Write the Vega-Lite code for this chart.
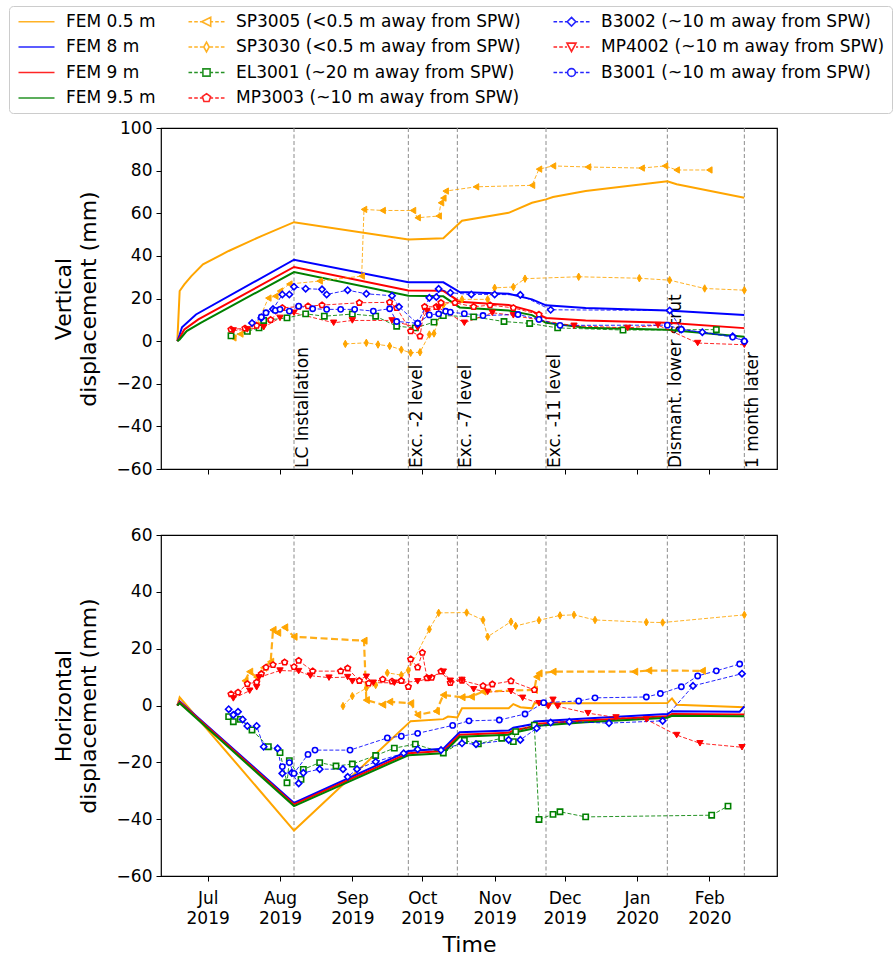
{
"$schema": "https://vega.github.io/schema/vega-lite/v6.json",
"background": "white",
"padding": {"left": 8, "top": 5, "right": 0, "bottom": 5},
"config": {
 "font": "DejaVu Sans",
 "view": {"stroke": "black", "strokeWidth": 1.2},
 "axis": {"domain": false, "grid": false, "tickColor": "black", "tickSize": 5, "tickWidth": 1, "labelColor": "black", "labelFontSize": 17, "titleFontSize": 22, "titleFontWeight": "normal", "titleColor": "black", "labelPadding": 4}
},
"datasets": {
 "ev": [
  {"d": "2019-08-07", "t": "LC Installation"},
  {"d": "2019-09-25", "t": "Exc. -2 level"},
  {"d": "2019-10-16", "t": "Exc. -7 level"},
  {"d": "2019-11-23", "t": "Exc. -11 level"},
  {"d": "2020-01-14", "t": "Dismant. lower strut"},
  {"d": "2020-02-16", "t": "1 month later"}
 ],
 "obs": [
  {"p":"a","s":"FEM 0.5 m","d":"2019-06-18","v":0},{"p":"a","s":"FEM 0.5 m","d":"2019-06-19","v":23.5},{"p":"a","s":"FEM 0.5 m","d":"2019-06-21","v":26.6},{"p":"a","s":"FEM 0.5 m","d":"2019-06-24","v":30.5},{"p":"a","s":"FEM 0.5 m","d":"2019-06-29","v":36},{"p":"a","s":"FEM 0.5 m","d":"2019-07-10","v":42.3},{"p":"a","s":"FEM 0.5 m","d":"2019-07-24","v":49.3},{"p":"a","s":"FEM 0.5 m","d":"2019-08-07","v":55.8},{"p":"a","s":"FEM 0.5 m","d":"2019-09-25","v":47.7},{"p":"a","s":"FEM 0.5 m","d":"2019-10-10","v":48.3},{"p":"a","s":"FEM 0.5 m","d":"2019-10-18","v":56.5},{"p":"a","s":"FEM 0.5 m","d":"2019-11-07","v":60.2},{"p":"a","s":"FEM 0.5 m","d":"2019-11-17","v":64.9},{"p":"a","s":"FEM 0.5 m","d":"2019-11-23","v":66.5},{"p":"a","s":"FEM 0.5 m","d":"2019-11-26","v":67.6},{"p":"a","s":"FEM 0.5 m","d":"2019-12-10","v":70.4},{"p":"a","s":"FEM 0.5 m","d":"2020-01-14","v":75},{"p":"a","s":"FEM 0.5 m","d":"2020-01-18","v":73.6},{"p":"a","s":"FEM 0.5 m","d":"2020-02-16","v":67.3},
  {"p":"a","s":"FEM 8 m","d":"2019-06-18","v":0},{"p":"a","s":"FEM 8 m","d":"2019-06-19","v":3},{"p":"a","s":"FEM 8 m","d":"2019-06-20","v":6.5},{"p":"a","s":"FEM 8 m","d":"2019-06-26","v":12.5},{"p":"a","s":"FEM 8 m","d":"2019-08-07","v":38.2},{"p":"a","s":"FEM 8 m","d":"2019-09-25","v":27.6},{"p":"a","s":"FEM 8 m","d":"2019-10-10","v":27.6},{"p":"a","s":"FEM 8 m","d":"2019-10-17","v":23},{"p":"a","s":"FEM 8 m","d":"2019-11-07","v":22.2},{"p":"a","s":"FEM 8 m","d":"2019-11-17","v":19.6},{"p":"a","s":"FEM 8 m","d":"2019-11-23","v":16.8},{"p":"a","s":"FEM 8 m","d":"2019-12-10","v":15.6},{"p":"a","s":"FEM 8 m","d":"2020-01-14","v":14.4},{"p":"a","s":"FEM 8 m","d":"2020-02-16","v":12.3},
  {"p":"a","s":"FEM 9 m","d":"2019-06-18","v":0},{"p":"a","s":"FEM 9 m","d":"2019-06-19","v":1.6},{"p":"a","s":"FEM 9 m","d":"2019-06-21","v":5.5},{"p":"a","s":"FEM 9 m","d":"2019-06-27","v":10.2},{"p":"a","s":"FEM 9 m","d":"2019-08-07","v":34.8},{"p":"a","s":"FEM 9 m","d":"2019-09-25","v":23.8},{"p":"a","s":"FEM 9 m","d":"2019-10-10","v":23.6},{"p":"a","s":"FEM 9 m","d":"2019-10-17","v":18.5},{"p":"a","s":"FEM 9 m","d":"2019-11-07","v":16.9},{"p":"a","s":"FEM 9 m","d":"2019-11-17","v":14.1},{"p":"a","s":"FEM 9 m","d":"2019-11-23","v":10.9},{"p":"a","s":"FEM 9 m","d":"2019-12-10","v":9.7},{"p":"a","s":"FEM 9 m","d":"2020-01-14","v":8.6},{"p":"a","s":"FEM 9 m","d":"2020-02-16","v":6.1},
  {"p":"a","s":"FEM 9.5 m","d":"2019-06-18","v":0},{"p":"a","s":"FEM 9.5 m","d":"2019-06-19","v":0.8},{"p":"a","s":"FEM 9.5 m","d":"2019-06-22","v":4.7},{"p":"a","s":"FEM 9.5 m","d":"2019-06-28","v":8.6},{"p":"a","s":"FEM 9.5 m","d":"2019-08-07","v":32.4},{"p":"a","s":"FEM 9.5 m","d":"2019-09-25","v":21.3},{"p":"a","s":"FEM 9.5 m","d":"2019-10-10","v":21},{"p":"a","s":"FEM 9.5 m","d":"2019-10-17","v":15.8},{"p":"a","s":"FEM 9.5 m","d":"2019-11-07","v":14.4},{"p":"a","s":"FEM 9.5 m","d":"2019-11-17","v":12.2},{"p":"a","s":"FEM 9.5 m","d":"2019-11-23","v":8.6},{"p":"a","s":"FEM 9.5 m","d":"2019-12-10","v":6.3},{"p":"a","s":"FEM 9.5 m","d":"2020-01-14","v":5.3},{"p":"a","s":"FEM 9.5 m","d":"2020-02-16","v":2.1},
  {"p":"a","s":"SP3005","d":"2019-07-12","v":1.5},{"p":"a","s":"SP3005","d":"2019-07-15","v":3.3},{"p":"a","s":"SP3005","d":"2019-07-18","v":4.7},{"p":"a","s":"SP3005","d":"2019-07-22","v":7.5},{"p":"a","s":"SP3005","d":"2019-07-27","v":20.2},{"p":"a","s":"SP3005","d":"2019-07-30","v":21.1},{"p":"a","s":"SP3005","d":"2019-08-01","v":23.5},{"p":"a","s":"SP3005","d":"2019-08-05","v":26.8},{"p":"a","s":"SP3005","d":"2019-08-18","v":28.2},{"p":"a","s":"SP3005","d":"2019-09-05","v":30.5},{"p":"a","s":"SP3005","d":"2019-09-06","v":61.8},{"p":"a","s":"SP3005","d":"2019-09-14","v":61.3},{"p":"a","s":"SP3005","d":"2019-09-27","v":61.3},{"p":"a","s":"SP3005","d":"2019-09-29","v":57.9},{"p":"a","s":"SP3005","d":"2019-10-08","v":58.7},{"p":"a","s":"SP3005","d":"2019-10-09","v":64.9},{"p":"a","s":"SP3005","d":"2019-10-10","v":67.1},{"p":"a","s":"SP3005","d":"2019-10-11","v":70.4},{"p":"a","s":"SP3005","d":"2019-10-24","v":72.4},{"p":"a","s":"SP3005","d":"2019-11-17","v":73.1},{"p":"a","s":"SP3005","d":"2019-11-20","v":80.7},{"p":"a","s":"SP3005","d":"2019-11-26","v":82.2},{"p":"a","s":"SP3005","d":"2019-12-11","v":81.7},{"p":"a","s":"SP3005","d":"2020-01-03","v":81.2},{"p":"a","s":"SP3005","d":"2020-01-13","v":82.2},{"p":"a","s":"SP3005","d":"2020-01-18","v":80.3},{"p":"a","s":"SP3005","d":"2020-02-01","v":80.3},
  {"p":"a","s":"SP3030","d":"2019-08-29","v":-1.3},{"p":"a","s":"SP3030","d":"2019-09-07","v":-0.8},{"p":"a","s":"SP3030","d":"2019-09-12","v":-1.6},{"p":"a","s":"SP3030","d":"2019-09-17","v":-2.3},{"p":"a","s":"SP3030","d":"2019-09-22","v":-4},{"p":"a","s":"SP3030","d":"2019-09-26","v":-5.5},{"p":"a","s":"SP3030","d":"2019-09-30","v":-5.2},{"p":"a","s":"SP3030","d":"2019-10-04","v":3.1},{"p":"a","s":"SP3030","d":"2019-10-06","v":3.6},{"p":"a","s":"SP3030","d":"2019-10-10","v":17},{"p":"a","s":"SP3030","d":"2019-10-18","v":19.6},{"p":"a","s":"SP3030","d":"2019-10-29","v":19.6},{"p":"a","s":"SP3030","d":"2019-11-01","v":25},{"p":"a","s":"SP3030","d":"2019-11-09","v":25.4},{"p":"a","s":"SP3030","d":"2019-11-14","v":29.3},{"p":"a","s":"SP3030","d":"2019-12-07","v":30.2},{"p":"a","s":"SP3030","d":"2020-01-02","v":29.5},{"p":"a","s":"SP3030","d":"2020-01-15","v":28.6},{"p":"a","s":"SP3030","d":"2020-01-30","v":24.7},{"p":"a","s":"SP3030","d":"2020-02-16","v":23.9},
  {"p":"a","s":"EL3001","d":"2019-07-11","v":2.5},{"p":"a","s":"EL3001","d":"2019-07-18","v":4.6},{"p":"a","s":"EL3001","d":"2019-07-23","v":6.2},{"p":"a","s":"EL3001","d":"2019-07-25","v":9.7},{"p":"a","s":"EL3001","d":"2019-08-04","v":10.9},{"p":"a","s":"EL3001","d":"2019-08-12","v":12.8},{"p":"a","s":"EL3001","d":"2019-08-20","v":11.7},{"p":"a","s":"EL3001","d":"2019-09-01","v":12.7},{"p":"a","s":"EL3001","d":"2019-09-11","v":11.7},{"p":"a","s":"EL3001","d":"2019-09-20","v":7},{"p":"a","s":"EL3001","d":"2019-09-28","v":6.2},{"p":"a","s":"EL3001","d":"2019-10-06","v":8.9},{"p":"a","s":"EL3001","d":"2019-10-10","v":12},{"p":"a","s":"EL3001","d":"2019-10-23","v":11.4},{"p":"a","s":"EL3001","d":"2019-11-05","v":9.2},{"p":"a","s":"EL3001","d":"2019-11-16","v":8.3},{"p":"a","s":"EL3001","d":"2019-11-28","v":6.2},{"p":"a","s":"EL3001","d":"2019-12-26","v":5.2},{"p":"a","s":"EL3001","d":"2020-02-04","v":5.4},
  {"p":"a","s":"MP3003","d":"2019-07-11","v":5.5},{"p":"a","s":"MP3003","d":"2019-07-17","v":6},{"p":"a","s":"MP3003","d":"2019-07-22","v":7.3},{"p":"a","s":"MP3003","d":"2019-07-28","v":10},{"p":"a","s":"MP3003","d":"2019-08-02","v":15.6},{"p":"a","s":"MP3003","d":"2019-08-09","v":16.2},{"p":"a","s":"MP3003","d":"2019-08-13","v":16.4},{"p":"a","s":"MP3003","d":"2019-08-19","v":16.9},{"p":"a","s":"MP3003","d":"2019-09-04","v":18},{"p":"a","s":"MP3003","d":"2019-09-17","v":18.2},{"p":"a","s":"MP3003","d":"2019-09-20","v":15.6},{"p":"a","s":"MP3003","d":"2019-09-26","v":4.7},{"p":"a","s":"MP3003","d":"2019-09-30","v":2.3},{"p":"a","s":"MP3003","d":"2019-10-02","v":16.1},{"p":"a","s":"MP3003","d":"2019-10-07","v":16.1},{"p":"a","s":"MP3003","d":"2019-10-09","v":18},{"p":"a","s":"MP3003","d":"2019-10-15","v":18},{"p":"a","s":"MP3003","d":"2019-10-23","v":16.1},{"p":"a","s":"MP3003","d":"2019-10-30","v":16.9},{"p":"a","s":"MP3003","d":"2019-11-09","v":15.6},{"p":"a","s":"MP3003","d":"2019-11-20","v":12.5},
  {"p":"a","s":"MP4002","d":"2019-07-12","v":5},{"p":"a","s":"MP4002","d":"2019-07-18","v":5.5},{"p":"a","s":"MP4002","d":"2019-07-25","v":6.5},{"p":"a","s":"MP4002","d":"2019-08-01","v":10.9},{"p":"a","s":"MP4002","d":"2019-08-07","v":13.3},{"p":"a","s":"MP4002","d":"2019-08-24","v":8.6},{"p":"a","s":"MP4002","d":"2019-09-01","v":9.7},{"p":"a","s":"MP4002","d":"2019-09-18","v":9.7},{"p":"a","s":"MP4002","d":"2019-09-29","v":6.2},{"p":"a","s":"MP4002","d":"2019-10-03","v":14.1},{"p":"a","s":"MP4002","d":"2019-10-08","v":15.6},{"p":"a","s":"MP4002","d":"2019-10-19","v":8.6},{"p":"a","s":"MP4002","d":"2019-10-31","v":13.3},{"p":"a","s":"MP4002","d":"2019-11-09","v":12.1},{"p":"a","s":"MP4002","d":"2019-11-20","v":9.9},{"p":"a","s":"MP4002","d":"2019-12-05","v":7.2},{"p":"a","s":"MP4002","d":"2019-12-28","v":6.2},{"p":"a","s":"MP4002","d":"2020-01-10","v":7.5},{"p":"a","s":"MP4002","d":"2020-01-27","v":-0.9},{"p":"a","s":"MP4002","d":"2020-02-16","v":-1.7},
  {"p":"a","s":"B3002","d":"2019-07-20","v":8.5},{"p":"a","s":"B3002","d":"2019-07-24","v":10.9},{"p":"a","s":"B3002","d":"2019-07-29","v":15},{"p":"a","s":"B3002","d":"2019-08-02","v":21.9},{"p":"a","s":"B3002","d":"2019-08-05","v":21.9},{"p":"a","s":"B3002","d":"2019-08-07","v":25.5},{"p":"a","s":"B3002","d":"2019-08-12","v":24.6},{"p":"a","s":"B3002","d":"2019-08-19","v":24.3},{"p":"a","s":"B3002","d":"2019-08-21","v":21.9},{"p":"a","s":"B3002","d":"2019-08-30","v":23.9},{"p":"a","s":"B3002","d":"2019-09-07","v":22.2},{"p":"a","s":"B3002","d":"2019-09-18","v":21.3},{"p":"a","s":"B3002","d":"2019-09-21","v":16.1},{"p":"a","s":"B3002","d":"2019-09-29","v":8.2},{"p":"a","s":"B3002","d":"2019-10-04","v":20.3},{"p":"a","s":"B3002","d":"2019-10-07","v":20.7},{"p":"a","s":"B3002","d":"2019-10-08","v":24.5},{"p":"a","s":"B3002","d":"2019-10-13","v":22.7},{"p":"a","s":"B3002","d":"2019-10-22","v":21.9},{"p":"a","s":"B3002","d":"2019-11-01","v":21.9},{"p":"a","s":"B3002","d":"2019-11-12","v":21.7},{"p":"a","s":"B3002","d":"2019-11-25","v":14.7},{"p":"a","s":"B3002","d":"2020-01-15","v":14.4},{"p":"a","s":"B3002","d":"2020-01-20","v":5.5},{"p":"a","s":"B3002","d":"2020-01-29","v":4.2},{"p":"a","s":"B3002","d":"2020-02-11","v":2.3},{"p":"a","s":"B3002","d":"2020-02-16","v":0},
  {"p":"a","s":"B3001","d":"2019-07-24","v":11.3},{"p":"a","s":"B3001","d":"2019-07-26","v":13.3},{"p":"a","s":"B3001","d":"2019-07-30","v":14.4},{"p":"a","s":"B3001","d":"2019-08-01","v":14.9},{"p":"a","s":"B3001","d":"2019-08-05","v":14.1},{"p":"a","s":"B3001","d":"2019-08-09","v":16.4},{"p":"a","s":"B3001","d":"2019-08-15","v":15.2},{"p":"a","s":"B3001","d":"2019-08-21","v":14.9},{"p":"a","s":"B3001","d":"2019-08-27","v":14.9},{"p":"a","s":"B3001","d":"2019-09-02","v":14.9},{"p":"a","s":"B3001","d":"2019-09-10","v":14.1},{"p":"a","s":"B3001","d":"2019-09-17","v":15.2},{"p":"a","s":"B3001","d":"2019-09-20","v":9.2},{"p":"a","s":"B3001","d":"2019-09-29","v":8.4},{"p":"a","s":"B3001","d":"2019-10-04","v":12.3},{"p":"a","s":"B3001","d":"2019-10-08","v":12.8},{"p":"a","s":"B3001","d":"2019-10-11","v":14},{"p":"a","s":"B3001","d":"2019-10-13","v":13.6},{"p":"a","s":"B3001","d":"2019-10-19","v":12.9},{"p":"a","s":"B3001","d":"2019-10-27","v":12},{"p":"a","s":"B3001","d":"2019-11-11","v":12.5},{"p":"a","s":"B3001","d":"2019-11-20","v":10.2},{"p":"a","s":"B3001","d":"2019-11-29","v":7.4},{"p":"a","s":"B3001","d":"2020-01-14","v":7.5},{"p":"a","s":"B3001","d":"2020-01-20","v":5.5},{"p":"a","s":"B3001","d":"2020-02-11","v":1.9},{"p":"a","s":"B3001","d":"2020-02-16","v":0},
  {"p":"b","s":"FEM 0.5 m","d":"2019-06-18","v":0},{"p":"b","s":"FEM 0.5 m","d":"2019-06-19","v":2.9},{"p":"b","s":"FEM 0.5 m","d":"2019-08-07","v":-44},{"p":"b","s":"FEM 0.5 m","d":"2019-09-26","v":-5.5},{"p":"b","s":"FEM 0.5 m","d":"2019-10-10","v":-4.8},{"p":"b","s":"FEM 0.5 m","d":"2019-10-12","v":-3.9},{"p":"b","s":"FEM 0.5 m","d":"2019-10-16","v":-4.2},{"p":"b","s":"FEM 0.5 m","d":"2019-10-18","v":-1},{"p":"b","s":"FEM 0.5 m","d":"2019-11-07","v":-1},{"p":"b","s":"FEM 0.5 m","d":"2019-11-09","v":0.5},{"p":"b","s":"FEM 0.5 m","d":"2019-11-12","v":-0.6},{"p":"b","s":"FEM 0.5 m","d":"2019-11-17","v":-1},{"p":"b","s":"FEM 0.5 m","d":"2019-11-18","v":0.8},{"p":"b","s":"FEM 0.5 m","d":"2019-12-10","v":0.8},{"p":"b","s":"FEM 0.5 m","d":"2020-01-14","v":0.9},{"p":"b","s":"FEM 0.5 m","d":"2020-01-16","v":2.5},{"p":"b","s":"FEM 0.5 m","d":"2020-01-18","v":0.3},{"p":"b","s":"FEM 0.5 m","d":"2020-02-16","v":-0.6},
  {"p":"b","s":"FEM 8 m","d":"2019-06-18","v":0},{"p":"b","s":"FEM 8 m","d":"2019-06-19","v":1.5},{"p":"b","s":"FEM 8 m","d":"2019-08-07","v":-34.3},{"p":"b","s":"FEM 8 m","d":"2019-09-25","v":-16},{"p":"b","s":"FEM 8 m","d":"2019-10-10","v":-15.2},{"p":"b","s":"FEM 8 m","d":"2019-10-17","v":-9.4},{"p":"b","s":"FEM 8 m","d":"2019-11-07","v":-8.8},{"p":"b","s":"FEM 8 m","d":"2019-11-09","v":-7.8},{"p":"b","s":"FEM 8 m","d":"2019-11-17","v":-6.6},{"p":"b","s":"FEM 8 m","d":"2019-11-18","v":-5.6},{"p":"b","s":"FEM 8 m","d":"2019-12-10","v":-4.6},{"p":"b","s":"FEM 8 m","d":"2020-01-14","v":-3},{"p":"b","s":"FEM 8 m","d":"2020-01-16","v":-2},{"p":"b","s":"FEM 8 m","d":"2020-02-14","v":-2.2},{"p":"b","s":"FEM 8 m","d":"2020-02-16","v":-0.3},
  {"p":"b","s":"FEM 9 m","d":"2019-06-18","v":0},{"p":"b","s":"FEM 9 m","d":"2019-06-19","v":1.2},{"p":"b","s":"FEM 9 m","d":"2019-08-07","v":-34.8},{"p":"b","s":"FEM 9 m","d":"2019-09-25","v":-16.8},{"p":"b","s":"FEM 9 m","d":"2019-10-10","v":-16},{"p":"b","s":"FEM 9 m","d":"2019-10-17","v":-10.3},{"p":"b","s":"FEM 9 m","d":"2019-11-07","v":-9.6},{"p":"b","s":"FEM 9 m","d":"2019-11-09","v":-8.8},{"p":"b","s":"FEM 9 m","d":"2019-11-17","v":-7.5},{"p":"b","s":"FEM 9 m","d":"2019-11-18","v":-6.5},{"p":"b","s":"FEM 9 m","d":"2019-12-10","v":-5.3},{"p":"b","s":"FEM 9 m","d":"2020-01-14","v":-3.8},{"p":"b","s":"FEM 9 m","d":"2020-01-16","v":-3},{"p":"b","s":"FEM 9 m","d":"2020-02-16","v":-3.2},
  {"p":"b","s":"FEM 9.5 m","d":"2019-06-18","v":0},{"p":"b","s":"FEM 9.5 m","d":"2019-06-19","v":0.8},{"p":"b","s":"FEM 9.5 m","d":"2019-08-07","v":-35.4},{"p":"b","s":"FEM 9.5 m","d":"2019-09-25","v":-17.5},{"p":"b","s":"FEM 9.5 m","d":"2019-10-10","v":-16.8},{"p":"b","s":"FEM 9.5 m","d":"2019-10-17","v":-11},{"p":"b","s":"FEM 9.5 m","d":"2019-11-07","v":-10.3},{"p":"b","s":"FEM 9.5 m","d":"2019-11-09","v":-9.6},{"p":"b","s":"FEM 9.5 m","d":"2019-11-17","v":-8.2},{"p":"b","s":"FEM 9.5 m","d":"2019-11-18","v":-7.2},{"p":"b","s":"FEM 9.5 m","d":"2019-12-10","v":-5.9},{"p":"b","s":"FEM 9.5 m","d":"2020-01-14","v":-4.3},{"p":"b","s":"FEM 9.5 m","d":"2020-01-16","v":-3.6},{"p":"b","s":"FEM 9.5 m","d":"2020-02-16","v":-3.8},
  {"p":"b","s":"SP3005","d":"2019-07-17","v":8.7},{"p":"b","s":"SP3005","d":"2019-07-19","v":11.9},{"p":"b","s":"SP3005","d":"2019-07-22","v":10},{"p":"b","s":"SP3005","d":"2019-07-25","v":13.3},{"p":"b","s":"SP3005","d":"2019-07-28","v":15.4},{"p":"b","s":"SP3005","d":"2019-07-29","v":26.6},{"p":"b","s":"SP3005","d":"2019-07-31","v":25.6},{"p":"b","s":"SP3005","d":"2019-08-03","v":27.5},{"p":"b","s":"SP3005","d":"2019-08-07","v":24.2},{"p":"b","s":"SP3005","d":"2019-09-06","v":22.8},{"p":"b","s":"SP3005","d":"2019-09-07","v":1.9},{"p":"b","s":"SP3005","d":"2019-09-14","v":0.3},{"p":"b","s":"SP3005","d":"2019-09-17","v":1.3},{"p":"b","s":"SP3005","d":"2019-09-26","v":0.8},{"p":"b","s":"SP3005","d":"2019-09-29","v":-3.3},{"p":"b","s":"SP3005","d":"2019-10-07","v":-2},{"p":"b","s":"SP3005","d":"2019-10-10","v":3.7},{"p":"b","s":"SP3005","d":"2019-10-18","v":2.9},{"p":"b","s":"SP3005","d":"2019-10-22","v":3.1},{"p":"b","s":"SP3005","d":"2019-10-27","v":4.9},{"p":"b","s":"SP3005","d":"2019-11-18","v":5.5},{"p":"b","s":"SP3005","d":"2019-11-19","v":10.1},{"p":"b","s":"SP3005","d":"2019-11-20","v":11.3},{"p":"b","s":"SP3005","d":"2019-11-26","v":11.9},{"p":"b","s":"SP3005","d":"2019-12-31","v":11.9},{"p":"b","s":"SP3005","d":"2020-01-06","v":12.3},{"p":"b","s":"SP3005","d":"2020-01-29","v":12.2},
  {"p":"b","s":"SP3030","d":"2019-08-28","v":-0.2},{"p":"b","s":"SP3030","d":"2019-09-01","v":3.3},{"p":"b","s":"SP3030","d":"2019-09-07","v":6.1},{"p":"b","s":"SP3030","d":"2019-09-11","v":7.2},{"p":"b","s":"SP3030","d":"2019-09-16","v":11.5},{"p":"b","s":"SP3030","d":"2019-09-22","v":10.7},{"p":"b","s":"SP3030","d":"2019-09-25","v":12.4},{"p":"b","s":"SP3030","d":"2019-10-04","v":26.8},{"p":"b","s":"SP3030","d":"2019-10-08","v":32.6},{"p":"b","s":"SP3030","d":"2019-10-20","v":32.7},{"p":"b","s":"SP3030","d":"2019-10-27","v":30.1},{"p":"b","s":"SP3030","d":"2019-10-29","v":24.2},{"p":"b","s":"SP3030","d":"2019-11-08","v":29.5},{"p":"b","s":"SP3030","d":"2019-11-10","v":28},{"p":"b","s":"SP3030","d":"2019-11-20","v":30},{"p":"b","s":"SP3030","d":"2019-11-29","v":31.7},{"p":"b","s":"SP3030","d":"2019-12-05","v":31.9},{"p":"b","s":"SP3030","d":"2019-12-14","v":30.1},{"p":"b","s":"SP3030","d":"2020-01-05","v":29.3},{"p":"b","s":"SP3030","d":"2020-01-12","v":29.2},{"p":"b","s":"SP3030","d":"2020-02-16","v":31.9},
  {"p":"b","s":"EL3001","d":"2019-07-10","v":-3.9},{"p":"b","s":"EL3001","d":"2019-07-12","v":-5.7},{"p":"b","s":"EL3001","d":"2019-07-15","v":-4.9},{"p":"b","s":"EL3001","d":"2019-07-20","v":-8.6},{"p":"b","s":"EL3001","d":"2019-07-27","v":-14.5},{"p":"b","s":"EL3001","d":"2019-08-01","v":-16.6},{"p":"b","s":"EL3001","d":"2019-08-04","v":-27.2},{"p":"b","s":"EL3001","d":"2019-08-05","v":-19.4},{"p":"b","s":"EL3001","d":"2019-08-10","v":-26},{"p":"b","s":"EL3001","d":"2019-08-11","v":-22.5},{"p":"b","s":"EL3001","d":"2019-08-18","v":-20.1},{"p":"b","s":"EL3001","d":"2019-08-25","v":-21.3},{"p":"b","s":"EL3001","d":"2019-09-01","v":-20.6},{"p":"b","s":"EL3001","d":"2019-09-11","v":-17.6},{"p":"b","s":"EL3001","d":"2019-09-19","v":-15},{"p":"b","s":"EL3001","d":"2019-09-28","v":-13.6},{"p":"b","s":"EL3001","d":"2019-10-10","v":-16.7},{"p":"b","s":"EL3001","d":"2019-10-19","v":-12.3},{"p":"b","s":"EL3001","d":"2019-10-25","v":-13.5},{"p":"b","s":"EL3001","d":"2019-11-04","v":-11.5},{"p":"b","s":"EL3001","d":"2019-11-09","v":-12.7},{"p":"b","s":"EL3001","d":"2019-11-10","v":-9.2},{"p":"b","s":"EL3001","d":"2019-11-18","v":-6.9},{"p":"b","s":"EL3001","d":"2019-11-20","v":-40.1},{"p":"b","s":"EL3001","d":"2019-11-26","v":-38.3},{"p":"b","s":"EL3001","d":"2019-11-29","v":-37.4},{"p":"b","s":"EL3001","d":"2019-12-10","v":-39.2},{"p":"b","s":"EL3001","d":"2020-02-02","v":-38.6},{"p":"b","s":"EL3001","d":"2020-02-09","v":-35.4},
  {"p":"b","s":"MP3003","d":"2019-07-11","v":4},{"p":"b","s":"MP3003","d":"2019-07-14","v":4.6},{"p":"b","s":"MP3003","d":"2019-07-18","v":7.6},{"p":"b","s":"MP3003","d":"2019-07-22","v":8.2},{"p":"b","s":"MP3003","d":"2019-07-24","v":11.1},{"p":"b","s":"MP3003","d":"2019-07-26","v":13.4},{"p":"b","s":"MP3003","d":"2019-07-29","v":14.3},{"p":"b","s":"MP3003","d":"2019-08-03","v":15.2},{"p":"b","s":"MP3003","d":"2019-08-07","v":13.6},{"p":"b","s":"MP3003","d":"2019-08-09","v":15.8},{"p":"b","s":"MP3003","d":"2019-08-15","v":12.1},{"p":"b","s":"MP3003","d":"2019-08-27","v":12.1},{"p":"b","s":"MP3003","d":"2019-08-30","v":13.1},{"p":"b","s":"MP3003","d":"2019-09-04","v":8.7},{"p":"b","s":"MP3003","d":"2019-09-08","v":7.8},{"p":"b","s":"MP3003","d":"2019-09-14","v":9.2},{"p":"b","s":"MP3003","d":"2019-09-18","v":8.5},{"p":"b","s":"MP3003","d":"2019-09-22","v":8.7},{"p":"b","s":"MP3003","d":"2019-09-25","v":6.6},{"p":"b","s":"MP3003","d":"2019-09-26","v":16.3},{"p":"b","s":"MP3003","d":"2019-09-29","v":13.4},{"p":"b","s":"MP3003","d":"2019-10-01","v":18.6},{"p":"b","s":"MP3003","d":"2019-10-03","v":9.7},{"p":"b","s":"MP3003","d":"2019-10-05","v":9.8},{"p":"b","s":"MP3003","d":"2019-10-09","v":12},{"p":"b","s":"MP3003","d":"2019-10-13","v":8},{"p":"b","s":"MP3003","d":"2019-10-18","v":8.8},{"p":"b","s":"MP3003","d":"2019-10-27","v":6.9},{"p":"b","s":"MP3003","d":"2019-10-31","v":7.5},{"p":"b","s":"MP3003","d":"2019-11-08","v":8.6},{"p":"b","s":"MP3003","d":"2019-11-18","v":5.5},
  {"p":"b","s":"MP4002","d":"2019-07-12","v":2.5},{"p":"b","s":"MP4002","d":"2019-07-19","v":5.2},{"p":"b","s":"MP4002","d":"2019-07-22","v":6.4},{"p":"b","s":"MP4002","d":"2019-07-23","v":9.9},{"p":"b","s":"MP4002","d":"2019-08-01","v":12.3},{"p":"b","s":"MP4002","d":"2019-08-09","v":12.1},{"p":"b","s":"MP4002","d":"2019-08-14","v":10.5},{"p":"b","s":"MP4002","d":"2019-08-22","v":9.8},{"p":"b","s":"MP4002","d":"2019-08-30","v":10},{"p":"b","s":"MP4002","d":"2019-09-01","v":8.5},{"p":"b","s":"MP4002","d":"2019-09-07","v":10.1},{"p":"b","s":"MP4002","d":"2019-09-10","v":8},{"p":"b","s":"MP4002","d":"2019-09-19","v":8},{"p":"b","s":"MP4002","d":"2019-09-29","v":8.5},{"p":"b","s":"MP4002","d":"2019-10-04","v":9.6},{"p":"b","s":"MP4002","d":"2019-10-10","v":11.9},{"p":"b","s":"MP4002","d":"2019-10-13","v":8.7},{"p":"b","s":"MP4002","d":"2019-10-18","v":9},{"p":"b","s":"MP4002","d":"2019-10-23","v":5.7},{"p":"b","s":"MP4002","d":"2019-10-29","v":4.8},{"p":"b","s":"MP4002","d":"2019-11-08","v":5},{"p":"b","s":"MP4002","d":"2019-11-13","v":2.7},{"p":"b","s":"MP4002","d":"2019-11-20","v":0.8},{"p":"b","s":"MP4002","d":"2019-11-24","v":-0.3},{"p":"b","s":"MP4002","d":"2019-11-26","v":2},{"p":"b","s":"MP4002","d":"2019-11-28","v":-0.3},{"p":"b","s":"MP4002","d":"2019-12-11","v":-2.7},{"p":"b","s":"MP4002","d":"2019-12-23","v":-4.2},{"p":"b","s":"MP4002","d":"2020-01-05","v":-4.9},{"p":"b","s":"MP4002","d":"2020-01-18","v":-10.4},{"p":"b","s":"MP4002","d":"2020-01-28","v":-13.3},{"p":"b","s":"MP4002","d":"2020-02-15","v":-14.7},
  {"p":"b","s":"B3002","d":"2019-07-10","v":-1.3},{"p":"b","s":"B3002","d":"2019-07-12","v":-3.3},{"p":"b","s":"B3002","d":"2019-07-14","v":-2.2},{"p":"b","s":"B3002","d":"2019-07-16","v":-4.9},{"p":"b","s":"B3002","d":"2019-07-18","v":-7.2},{"p":"b","s":"B3002","d":"2019-07-22","v":-7.2},{"p":"b","s":"B3002","d":"2019-07-25","v":-14.5},{"p":"b","s":"B3002","d":"2019-07-31","v":-15.1},{"p":"b","s":"B3002","d":"2019-08-02","v":-23.9},{"p":"b","s":"B3002","d":"2019-08-06","v":-23.7},{"p":"b","s":"B3002","d":"2019-08-09","v":-27.4},{"p":"b","s":"B3002","d":"2019-08-11","v":-23.7},{"p":"b","s":"B3002","d":"2019-08-18","v":-22.4},{"p":"b","s":"B3002","d":"2019-08-28","v":-22.4},{"p":"b","s":"B3002","d":"2019-08-30","v":-25.1},{"p":"b","s":"B3002","d":"2019-09-03","v":-22.4},{"p":"b","s":"B3002","d":"2019-09-11","v":-19.8},{"p":"b","s":"B3002","d":"2019-09-23","v":-16.8},{"p":"b","s":"B3002","d":"2019-09-29","v":-15.4},{"p":"b","s":"B3002","d":"2019-10-09","v":-15.7},{"p":"b","s":"B3002","d":"2019-10-18","v":-13.3},{"p":"b","s":"B3002","d":"2019-10-24","v":-13.6},{"p":"b","s":"B3002","d":"2019-11-07","v":-12.1},{"p":"b","s":"B3002","d":"2019-11-12","v":-12.1},{"p":"b","s":"B3002","d":"2019-11-19","v":-8},{"p":"b","s":"B3002","d":"2019-11-25","v":-6},{"p":"b","s":"B3002","d":"2019-12-03","v":-5.7},{"p":"b","s":"B3002","d":"2019-12-20","v":-6.2},{"p":"b","s":"B3002","d":"2020-01-12","v":-5.4},{"p":"b","s":"B3002","d":"2020-01-25","v":6.9},{"p":"b","s":"B3002","d":"2020-02-15","v":11.2},
  {"p":"b","s":"B3001","d":"2019-08-02","v":-21.5},{"p":"b","s":"B3001","d":"2019-08-05","v":-20.1},{"p":"b","s":"B3001","d":"2019-08-07","v":-23.9},{"p":"b","s":"B3001","d":"2019-08-13","v":-17.2},{"p":"b","s":"B3001","d":"2019-08-16","v":-15.7},{"p":"b","s":"B3001","d":"2019-08-31","v":-15.7},{"p":"b","s":"B3001","d":"2019-09-16","v":-11.4},{"p":"b","s":"B3001","d":"2019-09-22","v":-10.8},{"p":"b","s":"B3001","d":"2019-09-29","v":-9.8},{"p":"b","s":"B3001","d":"2019-10-14","v":-7},{"p":"b","s":"B3001","d":"2019-10-21","v":-5.4},{"p":"b","s":"B3001","d":"2019-11-03","v":-5.1},{"p":"b","s":"B3001","d":"2019-11-14","v":-3},{"p":"b","s":"B3001","d":"2019-11-22","v":1},{"p":"b","s":"B3001","d":"2019-12-07","v":1.6},{"p":"b","s":"B3001","d":"2019-12-14","v":2.7},{"p":"b","s":"B3001","d":"2020-01-05","v":3},{"p":"b","s":"B3001","d":"2020-01-11","v":4.2},{"p":"b","s":"B3001","d":"2020-01-20","v":6.6},{"p":"b","s":"B3001","d":"2020-01-27","v":10.4},{"p":"b","s":"B3001","d":"2020-02-04","v":12.2},{"p":"b","s":"B3001","d":"2020-02-14","v":14.6}
 ]
},
"data": {"name": "obs"},
"spacing": 47,
"resolve": {"scale": {"y": "independent"}},
"vconcat": [
 {
  "width": 616, "height": 341,
  "encoding": {"x": {"field": "d", "type": "temporal", "scale": {"type": "utc", "domain": [{"year": 2019, "month": 6, "date": 11, "utc": true}, {"year": 2020, "month": 3, "date": 1, "utc": true}]}, "axis": {"labels": false, "title": null, "values": [{"year":2019,"month":7,"date":1,"utc":true},{"year":2019,"month":8,"date":1,"utc":true},{"year":2019,"month":9,"date":1,"utc":true},{"year":2019,"month":10,"date":1,"utc":true},{"year":2019,"month":11,"date":1,"utc":true},{"year":2019,"month":12,"date":1,"utc":true},{"year":2020,"month":1,"date":1,"utc":true},{"year":2020,"month":2,"date":1,"utc":true}]}}},
  "layer": [
   {"data": {"name": "ev"}, "mark": {"type": "rule", "color": "#8c8c8c", "strokeDash": [4, 2.5], "strokeWidth": 1}, "encoding": {}},
   {"data": {"name": "ev"}, "mark": {"type": "text", "angle": 270, "align": "left", "baseline": "top", "fontSize": 17, "dx": 1, "dy": 1, "color": "black"}, "encoding": {"y": {"datum": -60, "type": "quantitative"}, "text": {"field": "t", "type": "nominal"}}},
   {"transform": [{"filter": "datum.p=='a' && indexof(datum.s,'FEM')==0"}], "mark": {"type": "line", "strokeWidth": 2},
    "encoding": {"y": {"field": "v", "type": "quantitative", "scale": {"domain": [-60, 100], "nice": false, "zero": false}, "axis": {"values": [-60,-40,-20,0,20,40,60,80,100], "title": ["Vertical", "displacement (mm)"], "titleLineHeight": 25, "titlePadding": 16}},
     "stroke": {"field": "s", "type": "nominal",
      "scale": {"domain": ["FEM 0.5 m","FEM 8 m","FEM 9 m","FEM 9.5 m","SP3005","SP3030","EL3001","MP3003","B3002","MP4002","B3001"], "range": ["#ffa500","#0000ff","#ff0000","#008000","#ffa500","#ffa500","#008000","#ff0000","#0000ff","#ff0000","#0000ff"]},
      "legend": {"orient": "none", "legendX": -152, "legendY": -122, "columns": 3, "title": null, "symbolSize": 144, "symbolStrokeWidth": 1.6, "symbolFillColor": "white", "labelFontSize": 17, "labelColor": "black", "labelLimit": 400, "labelOffset": 33, "rowPadding": 7.5, "columnPadding": 29, "padding": 7, "strokeColor": "#cccccc", "fillColor": "white", "cornerRadius": 4,
       "labelExpr": "datum.label=='SP3005'||datum.label=='SP3030' ? datum.label+' (<0.5 m away from SPW)' : datum.label=='EL3001' ? datum.label+' (~20 m away from SPW)' : indexof(datum.label,'FEM')==0 ? datum.label : datum.label+' (~10 m away from SPW)'"}}}},
   {"transform": [{"filter": "datum.p=='a' && datum.s=='FEM 0.5 m'"}], "mark": {"type": "point", "opacity": 0},
    "encoding": {"y": {"field": "v", "type": "quantitative"},
     "shape": {"field": "s", "type": "nominal", "scale": {"domain": ["FEM 0.5 m","FEM 8 m","FEM 9 m","FEM 9.5 m","SP3005","SP3030","EL3001","MP3003","B3002","MP4002","B3001"],
      "range": ["M-1,0H5", "M-1,0H5", "M-1,0H5", "M-1,0H5",
       "M-1,0H-0.4M-0.05,0H0.55M0.9,0H1.2M2.8,0H3.1M3.45,0H4.05M4.4,0H5M1.2,0L2.7,-0.75L2.7,0.75Z",
       "M-1,0H-0.4M-0.05,0H0.55M0.9,0H1.55M2.45,0H3.1M3.45,0H4.05M4.4,0H5M2,-0.8L2.45,0L2,0.8L1.55,0Z",
       "M-1,0H-0.4M-0.05,0H0.55M0.9,0H1.4M2.6,0H3.1M3.45,0H4.05M4.4,0H5M1.4,-0.6H2.6V0.6H1.4Z",
       "M-1,0H-0.4M-0.05,0H0.55M0.9,0H1.3M2.7,0H3.1M3.45,0H4.05M4.4,0H5M2,-0.72L2.685,-0.223L2.423,0.583L1.577,0.583L1.315,-0.223Z",
       "M-1,0H-0.4M-0.05,0H0.55M0.9,0H1.28M2.72,0H3.1M3.45,0H4.05M4.4,0H5M2,-0.72L2.72,0L2,0.72L1.28,0Z",
       "M-1,0H-0.4M-0.05,0H0.55M0.9,0H1.25M2.75,0H3.1M3.45,0H4.05M4.4,0H5M1.25,-0.65H2.75L2,0.75Z",
       "M-1,0H-0.4M-0.05,0H0.55M0.9,0H1.35M2.65,0H3.1M3.45,0H4.05M4.4,0H5M2.65,0A0.65,0.65,0,1,1,1.35,0A0.65,0.65,0,1,1,2.65,0Z"]},
      "legend": {"orient": "none", "legendX": -152, "legendY": -122, "columns": 3, "title": null, "symbolSize": 144, "symbolStrokeWidth": 1.6, "symbolFillColor": "white", "labelFontSize": 17, "labelColor": "black", "labelLimit": 400, "labelOffset": 33, "rowPadding": 7.5, "columnPadding": 29, "padding": 7, "strokeColor": "#cccccc", "fillColor": "white", "cornerRadius": 4,
       "labelExpr": "datum.label=='SP3005'||datum.label=='SP3030' ? datum.label+' (<0.5 m away from SPW)' : datum.label=='EL3001' ? datum.label+' (~20 m away from SPW)' : indexof(datum.label,'FEM')==0 ? datum.label : datum.label+' (~10 m away from SPW)'"}}}},
   {"transform": [{"filter": "datum.p=='a' && indexof(datum.s,'FEM')<0"}], "mark": {"type": "line", "strokeWidth": 1, "strokeDash": [4, 2], "opacity": 0.85},
    "encoding": {"y": {"field": "v", "type": "quantitative"}, "stroke": {"field": "s", "type": "nominal"}}},
   {"transform": [{"filter": "datum.p=='a' && datum.s=='SP3005'"}], "mark": {"type": "point", "shape": "triangle-left", "fill": "#ffa500", "stroke": "#ffa500", "size": 40, "opacity": 1, "strokeWidth": 1}, "encoding": {"y": {"field": "v", "type": "quantitative"}}},
   {"transform": [{"filter": "datum.p=='a' && datum.s=='SP3030'"}], "mark": {"type": "point", "shape": "M0,-1L0.55,0L0,1L-0.55,0Z", "fill": "#ffa500", "stroke": "#ffa500", "size": 55, "opacity": 1, "strokeWidth": 1}, "encoding": {"y": {"field": "v", "type": "quantitative"}}},
   {"transform": [{"filter": "datum.p=='a' && datum.s=='EL3001'"}], "mark": {"type": "point", "shape": "square", "fill": "white", "stroke": "#008000", "size": 28, "opacity": 1, "strokeWidth": 1.6}, "encoding": {"y": {"field": "v", "type": "quantitative"}}},
   {"transform": [{"filter": "datum.p=='a' && datum.s=='MP3003'"}], "mark": {"type": "point", "shape": "M0,-1L0.951,-0.309L0.588,0.809L-0.588,0.809L-0.951,-0.309Z", "fill": "white", "stroke": "#ff0000", "size": 35, "opacity": 1, "strokeWidth": 1.6}, "encoding": {"y": {"field": "v", "type": "quantitative"}}},
   {"transform": [{"filter": "datum.p=='a' && datum.s=='MP4002'"}], "mark": {"type": "point", "shape": "triangle-down", "fill": "#ff0000", "stroke": "#ff0000", "size": 40, "opacity": 1, "strokeWidth": 1}, "encoding": {"y": {"field": "v", "type": "quantitative"}}},
   {"transform": [{"filter": "datum.p=='a' && datum.s=='B3002'"}], "mark": {"type": "point", "shape": "diamond", "fill": "white", "stroke": "#0000ff", "size": 40, "opacity": 1, "strokeWidth": 1.6}, "encoding": {"y": {"field": "v", "type": "quantitative"}}},
   {"transform": [{"filter": "datum.p=='a' && datum.s=='B3001'"}], "mark": {"type": "point", "shape": "circle", "fill": "white", "stroke": "#0000ff", "size": 28, "opacity": 1, "strokeWidth": 1.6}, "encoding": {"y": {"field": "v", "type": "quantitative"}}},
   {"data": {"values": [{"lab": "(a)"}]}, "mark": {"type": "text", "fontSize": 22, "align": "left", "baseline": "middle", "color": "black"}, "encoding": {"x": {"datum": {"year": 2019, "month": 6, "date": 12, "utc": true}, "type": "temporal"}, "y": {"datum": 89, "type": "quantitative"}, "text": {"field": "lab", "type": "nominal"}}}
  ]
 },
 {
  "width": 616, "height": 341,
  "encoding": {"x": {"field": "d", "type": "temporal", "scale": {"type": "utc", "domain": [{"year": 2019, "month": 6, "date": 11, "utc": true}, {"year": 2020, "month": 3, "date": 1, "utc": true}]}, "axis": {"title": "Time", "titlePadding": 8, "labelPadding": 9, "labelLineHeight": 20, "labelExpr": "[utcFormat(datum.value, '%b'), utcFormat(datum.value, '%Y')]", "values": [{"year":2019,"month":7,"date":1,"utc":true},{"year":2019,"month":8,"date":1,"utc":true},{"year":2019,"month":9,"date":1,"utc":true},{"year":2019,"month":10,"date":1,"utc":true},{"year":2019,"month":11,"date":1,"utc":true},{"year":2019,"month":12,"date":1,"utc":true},{"year":2020,"month":1,"date":1,"utc":true},{"year":2020,"month":2,"date":1,"utc":true}]}}},
  "layer": [
   {"data": {"name": "ev"}, "mark": {"type": "rule", "color": "#8c8c8c", "strokeDash": [4, 2.5], "strokeWidth": 1}, "encoding": {}},
   {"transform": [{"filter": "datum.p=='b' && indexof(datum.s,'FEM')==0"}], "mark": {"type": "line", "strokeWidth": 2},
    "encoding": {"y": {"field": "v", "type": "quantitative", "scale": {"domain": [-60, 60], "nice": false, "zero": false}, "axis": {"values": [-60,-40,-20,0,20,40,60], "title": ["Horizontal", "displacement (mm)"], "titleLineHeight": 25, "titlePadding": 16}},
     "stroke": {"field": "s", "type": "nominal"}}},
   {"transform": [{"filter": "datum.p=='b' && indexof(datum.s,'FEM')<0 && datum.s!='SP3005'"}], "mark": {"type": "line", "strokeWidth": 1, "strokeDash": [4, 2], "opacity": 0.85},
    "encoding": {"y": {"field": "v", "type": "quantitative"}, "stroke": {"field": "s", "type": "nominal"}}},
   {"transform": [{"filter": "datum.p=='b' && datum.s=='SP3005'"}], "mark": {"type": "line", "strokeWidth": 2.2, "strokeDash": [7, 3.5], "opacity": 0.9},
    "encoding": {"y": {"field": "v", "type": "quantitative"}, "stroke": {"field": "s", "type": "nominal"}}},
   {"transform": [{"filter": "datum.p=='b' && datum.s=='SP3005'"}], "mark": {"type": "point", "shape": "triangle-left", "fill": "#ffa500", "stroke": "#ffa500", "size": 50, "opacity": 1, "strokeWidth": 1}, "encoding": {"y": {"field": "v", "type": "quantitative"}}},
   {"transform": [{"filter": "datum.p=='b' && datum.s=='SP3030'"}], "mark": {"type": "point", "shape": "M0,-1L0.55,0L0,1L-0.55,0Z", "fill": "#ffa500", "stroke": "#ffa500", "size": 55, "opacity": 1, "strokeWidth": 1}, "encoding": {"y": {"field": "v", "type": "quantitative"}}},
   {"transform": [{"filter": "datum.p=='b' && datum.s=='EL3001'"}], "mark": {"type": "point", "shape": "square", "fill": "white", "stroke": "#008000", "size": 28, "opacity": 1, "strokeWidth": 1.6}, "encoding": {"y": {"field": "v", "type": "quantitative"}}},
   {"transform": [{"filter": "datum.p=='b' && datum.s=='MP3003'"}], "mark": {"type": "point", "shape": "M0,-1L0.951,-0.309L0.588,0.809L-0.588,0.809L-0.951,-0.309Z", "fill": "white", "stroke": "#ff0000", "size": 35, "opacity": 1, "strokeWidth": 1.6}, "encoding": {"y": {"field": "v", "type": "quantitative"}}},
   {"transform": [{"filter": "datum.p=='b' && datum.s=='MP4002'"}], "mark": {"type": "point", "shape": "triangle-down", "fill": "#ff0000", "stroke": "#ff0000", "size": 40, "opacity": 1, "strokeWidth": 1}, "encoding": {"y": {"field": "v", "type": "quantitative"}}},
   {"transform": [{"filter": "datum.p=='b' && datum.s=='B3002'"}], "mark": {"type": "point", "shape": "diamond", "fill": "white", "stroke": "#0000ff", "size": 40, "opacity": 1, "strokeWidth": 1.6}, "encoding": {"y": {"field": "v", "type": "quantitative"}}},
   {"transform": [{"filter": "datum.p=='b' && datum.s=='B3001'"}], "mark": {"type": "point", "shape": "circle", "fill": "white", "stroke": "#0000ff", "size": 28, "opacity": 1, "strokeWidth": 1.6}, "encoding": {"y": {"field": "v", "type": "quantitative"}}},
   {"data": {"values": [{"lab": "(b)"}]}, "mark": {"type": "text", "fontSize": 22, "align": "left", "baseline": "middle", "color": "black"}, "encoding": {"x": {"datum": {"year": 2019, "month": 6, "date": 12, "utc": true}, "type": "temporal"}, "y": {"datum": 52.6, "type": "quantitative"}, "text": {"field": "lab", "type": "nominal"}}}
  ]
 }
]
}
